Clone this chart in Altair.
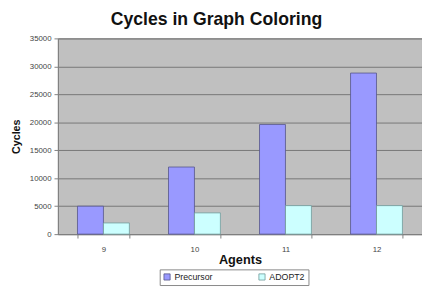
import altair as alt
import pandas as pd

agents = ["9", "10", "11", "12"]
precursor = [5000, 12000, 19600, 28800]
adopt2 = [2000, 3800, 5100, 5100]
series = ["Precursor", "ADOPT2"]

rows = []
for a, p, d in zip(agents, precursor, adopt2):
    rows.append({"Agents": a, "Series": "Precursor", "Cycles": p})
    rows.append({"Agents": a, "Series": "ADOPT2", "Cycles": d})
df = pd.DataFrame(rows)

font = "Liberation Sans"

chart = alt.Chart(df).mark_bar(strokeWidth=0.8).encode(
    x=alt.X("Agents:N", sort=agents,
            scale=alt.Scale(paddingInner=0.43, paddingOuter=0.215),
            axis=alt.Axis(title="Agents", labelAngle=0, tickBand="extent",
                          labelFontSize=8, labelColor="#444", labelFont=font,
                          titleFont=font, titleFontSize=13, titleFontWeight="bold",
                          titleColor="#111", titlePadding=0, labelPadding=8,
                          domainColor="#808080", tickColor="#808080", tickSize=4)),
    xOffset=alt.XOffset("Series:N", sort=series,
                        scale=alt.Scale(paddingInner=0, paddingOuter=0)),
    y=alt.Y("Cycles:Q", scale=alt.Scale(domain=[0, 35000]),
            axis=alt.Axis(title="Cycles", values=list(range(0, 35001, 5000)),
                          format="d",
                          labelFontSize=8, labelColor="#444", labelFont=font,
                          titleFont=font, titleFontSize=11, titleFontWeight="bold",
                          titleColor="#111", titlePadding=8, labelPadding=3,
                          domainColor="#808080", tickColor="#808080", tickSize=4,
                          gridColor="#777777", gridWidth=1)),
    fill=alt.Color("Series:N", sort=series,
                   scale=alt.Scale(domain=series, range=["#9999FF", "#CCFFFF"]),
                   legend=alt.Legend(title=None, orient="none", direction="horizontal",
                                     legendX=104, legendY=236,
                                     symbolType="square", symbolSize=40,
                                     symbolStrokeWidth=0.8,
                                     labelFontSize=9, labelFont=font, labelColor="#222",
                                     strokeColor="#888888", padding=3,
                                     columnPadding=44, labelOffset=3)),
    stroke=alt.Stroke("Series:N", sort=series,
                      scale=alt.Scale(domain=series, range=["#555588", "#6f9a9a"]),
                      legend=None),
).properties(
    width=372, height=200,
    title=alt.TitleParams("Cycles in Graph Coloring", font=font, fontSize=18,
                          fontWeight="bold", color="#111", anchor="middle",
                          dx=-24, offset=6),
    autosize=alt.AutoSizeParams(type="none"),
    padding={"left": 51, "top": 28, "right": 0, "bottom": 53},
).configure_view(fill="#C0C0C0", stroke="#808080")

chart.save("out.html", embed_options={"renderer": "svg", "actions": False})
